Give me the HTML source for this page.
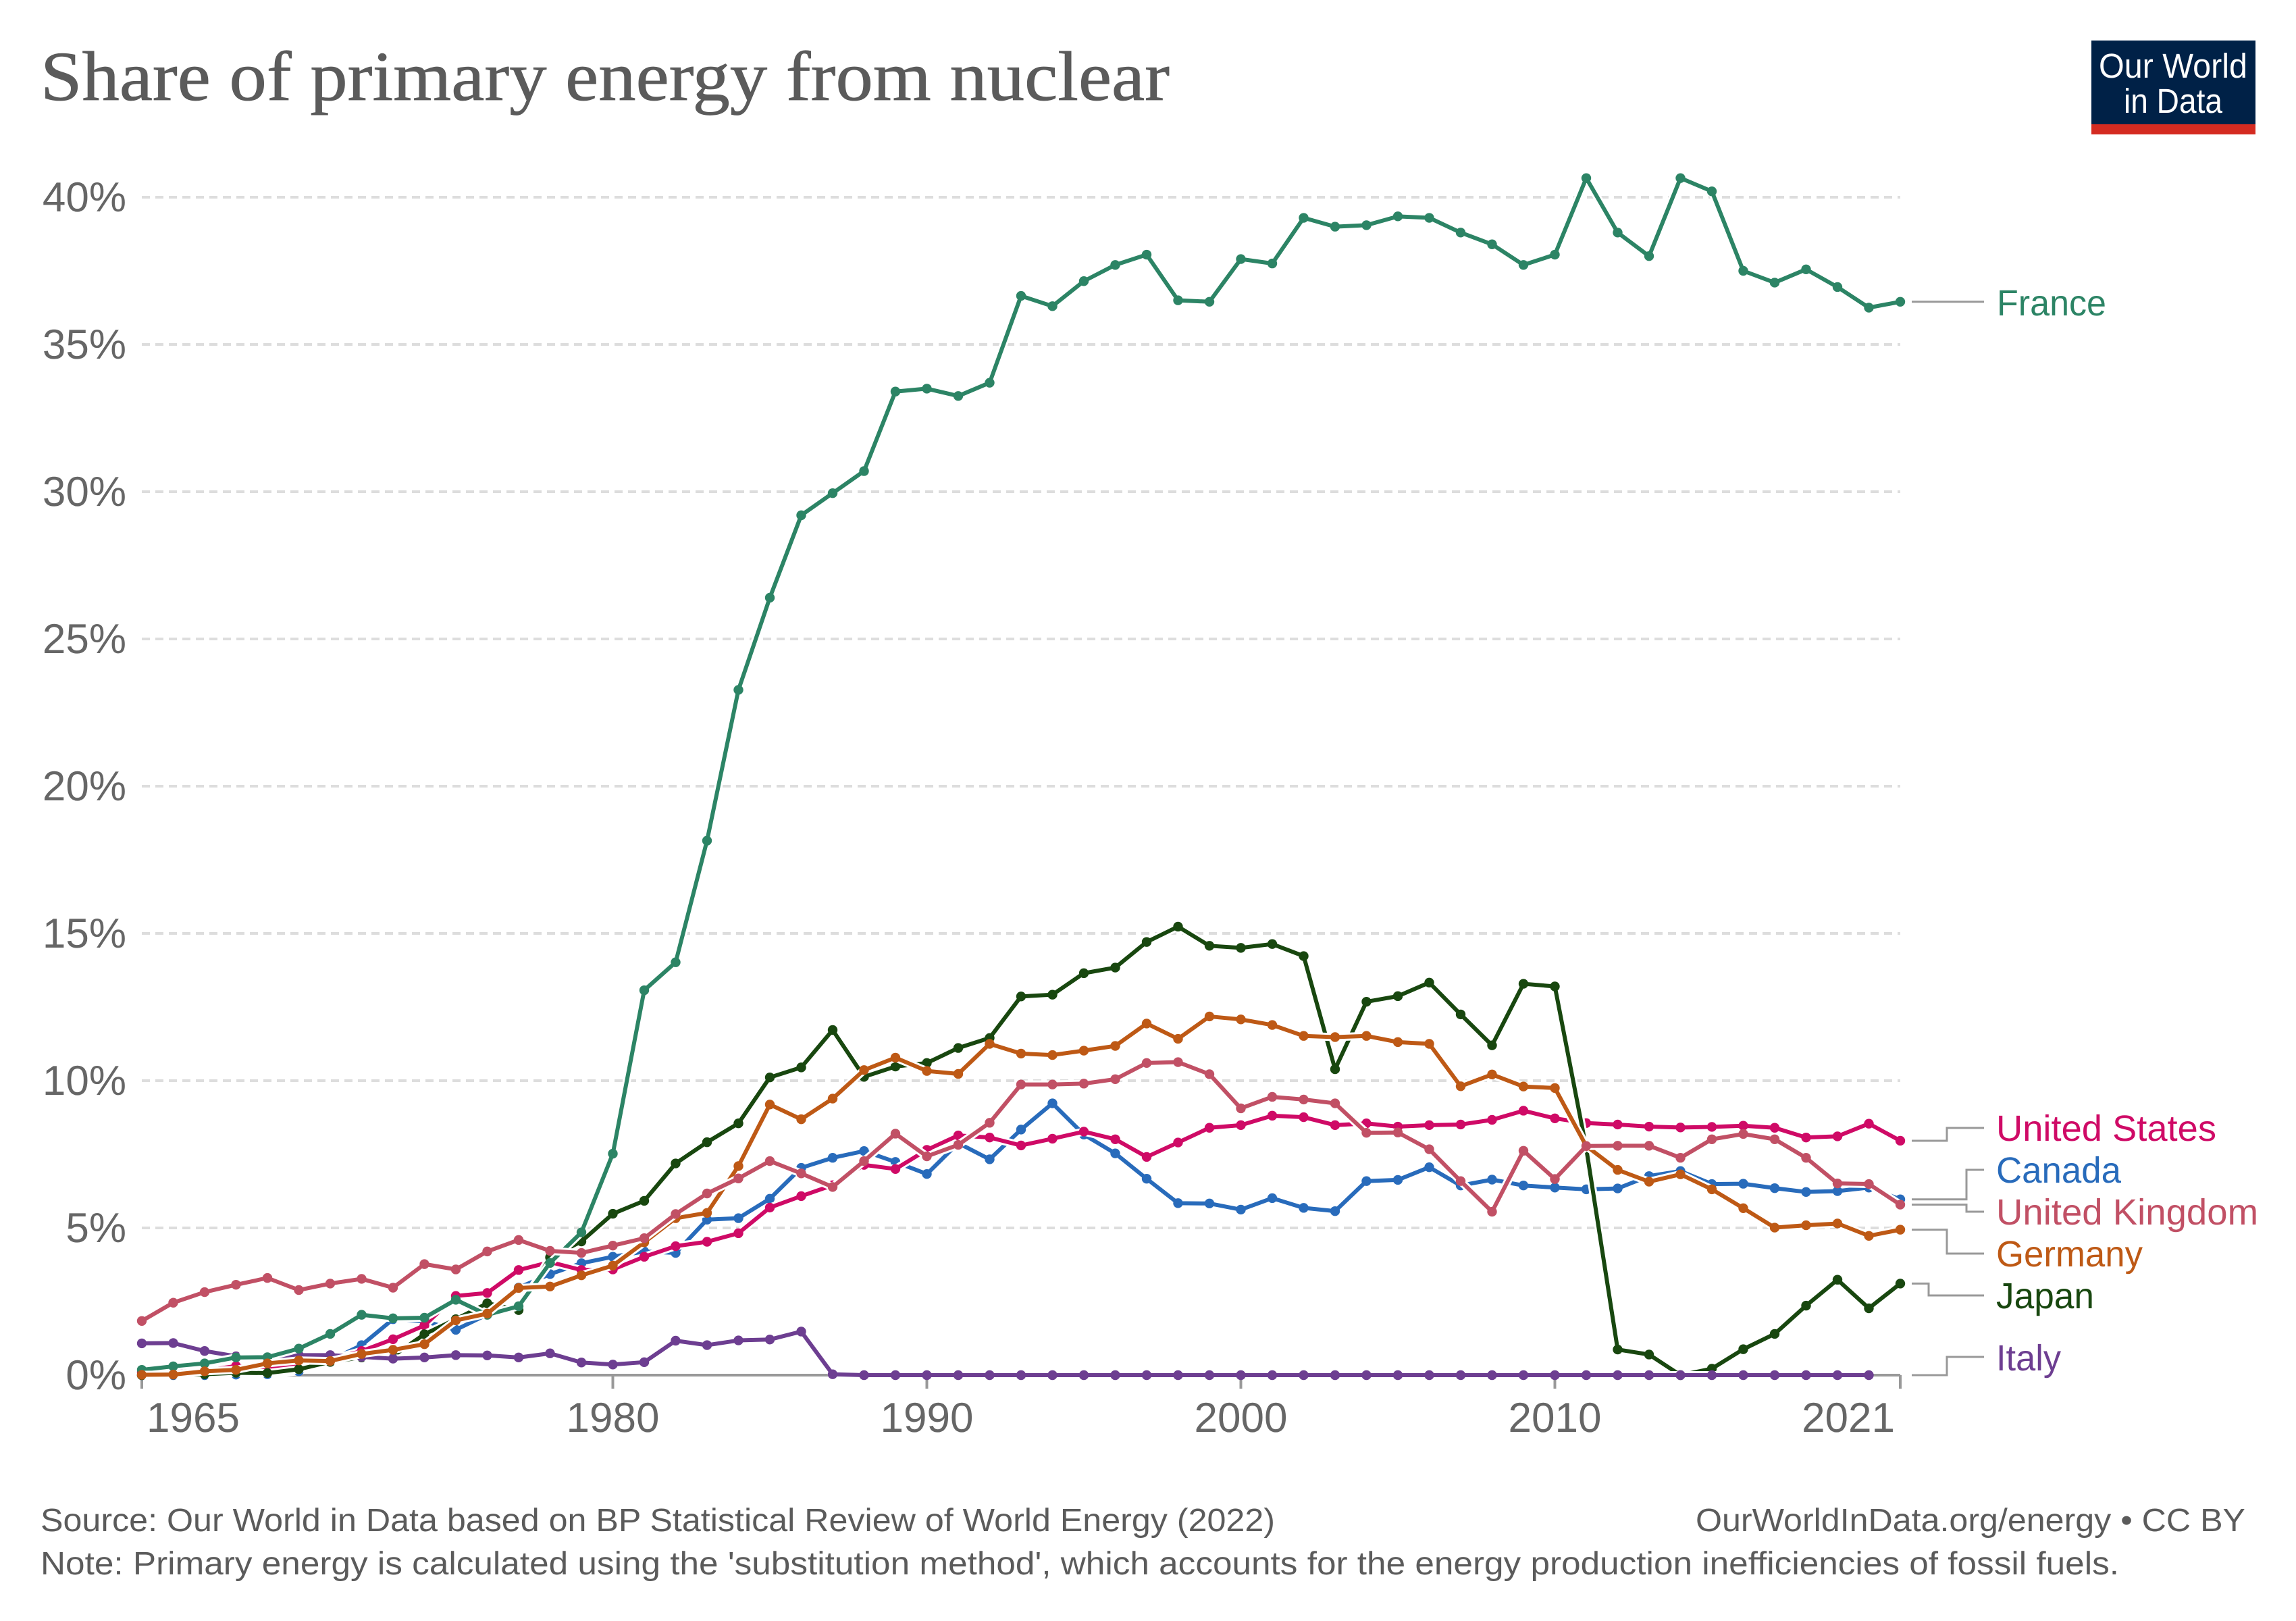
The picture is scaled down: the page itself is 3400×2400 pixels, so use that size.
<!DOCTYPE html>
<html lang="en">
<head>
<meta charset="utf-8">
<title>Share of primary energy from nuclear</title>
<style>
html,body{margin:0;padding:0;background:#fff;width:3400px;height:2400px;overflow:hidden}
svg{display:block}
text{font-family:"Liberation Sans",Arial,sans-serif;text-rendering:geometricPrecision}
</style>
</head>
<body>
<svg id="chart" xmlns="http://www.w3.org/2000/svg" width="3400" height="2400" viewBox="0 0 3400 2400">
  <rect width="3400" height="2400" fill="#fff"/>
  <text x="60" y="148" font-size="104" fill="#5b5b5b" stroke="#5b5b5b" stroke-width="0.8" textLength="1672" lengthAdjust="spacingAndGlyphs" style="font-family:'Liberation Serif',Georgia,serif">Share of primary energy from nuclear</text>
  <g>
    <rect x="3097" y="60" width="243" height="124" fill="#002147"/>
    <rect x="3097" y="184" width="243" height="15" fill="#d42b21"/>
    <text x="3218" y="115" font-size="51" fill="#fff" text-anchor="middle" textLength="220" lengthAdjust="spacingAndGlyphs">Our World</text>
    <text x="3218" y="167" font-size="51" fill="#fff" text-anchor="middle" textLength="146" lengthAdjust="spacingAndGlyphs">in Data</text>
  </g>
  <g id="grid"></g>
  <g id="yticks"></g>
  <g id="xaxis"></g>
  <g id="series"></g>
  <g id="connectors" fill="none" stroke="#999" stroke-width="3"></g>
  <g font-size="54">
    <text x="2957" y="467" fill="#2c8465" textLength="162" lengthAdjust="spacingAndGlyphs">France</text>
    <text x="2956" y="1689" fill="#cf0a66" textLength="326" lengthAdjust="spacingAndGlyphs">United States</text>
    <text x="2956" y="1751" fill="#286bbb" textLength="185" lengthAdjust="spacingAndGlyphs">Canada</text>
    <text x="2956" y="1813" fill="#c15065" textLength="388" lengthAdjust="spacingAndGlyphs">United Kingdom</text>
    <text x="2956" y="1875" fill="#be5915" textLength="217" lengthAdjust="spacingAndGlyphs">Germany</text>
    <text x="2956" y="1937" fill="#18470f" textLength="145" lengthAdjust="spacingAndGlyphs">Japan</text>
    <text x="2956" y="2029" fill="#6d3e91" textLength="96" lengthAdjust="spacingAndGlyphs">Italy</text>
  </g>
  <text x="60" y="2267" font-size="48" fill="#5b5b5b" textLength="1828" lengthAdjust="spacingAndGlyphs">Source: Our World in Data based on BP Statistical Review of World Energy (2022)</text>
  <text x="2511" y="2267" font-size="48" fill="#5b5b5b" textLength="814" lengthAdjust="spacingAndGlyphs">OurWorldInData.org/energy • CC BY</text>
  <text x="60" y="2331" font-size="48" fill="#5b5b5b" textLength="3078" lengthAdjust="spacingAndGlyphs">Note: Primary energy is calculated using the 'substitution method', which accounts for the energy production inefficiencies of fossil fuels.</text>
</svg>
<script>
const years = [1965,1966,1967,1968,1969,1970,1971,1972,1973,1974,1975,1976,1977,1978,1979,1980,1981,1982,1983,1984,1985,1986,1987,1988,1989,1990,1991,1992,1993,1994,1995,1996,1997,1998,1999,2000,2001,2002,2003,2004,2005,2006,2007,2008,2009,2010,2011,2012,2013,2014,2015,2016,2017,2018,2019,2020,2021];
const yTickValues = [0,5,10,15,20,25,30,35,40];
const yTickLabels = ['0%','5%','10%','15%','20%','25%','30%','35%','40%'];
const xTickYears = [1965,1980,1990,2000,2010,2021];
const xTickLabels = ['1965','1980','1990','2000','2010','2021'];

const canadaValues = [0,0,0,0.02,0.03,0.13,0.5,1.02,1.9,1.83,1.54,2.06,2.97,3.43,3.8,4.02,
  4.2,4.15,5.28,5.33,5.99,7.04,7.38,7.61,7.24,6.83,
  7.88,7.33,8.34,9.23,8.17,7.53,6.67,5.84,5.83,5.62,
  6.01,5.68,5.57,6.59,6.63,7.06,6.44,6.64,6.44,6.37,
  6.31,6.34,6.76,6.93,6.49,6.5,6.35,6.22,6.25,6.37,5.97];
const usValues = [0.1,0.12,0.15,0.31,0.2,0.31,0.53,0.82,1.22,1.69,2.69,2.79,3.57,3.84,3.57,3.59,
  4.02,4.38,4.53,4.82,5.69,6.08,6.45,7.14,7.0,7.65,
  8.14,8.07,7.8,8.03,8.27,8.01,7.41,7.9,8.4,8.49,
  8.81,8.76,8.49,8.55,8.44,8.49,8.51,8.67,8.98,8.72,
  8.56,8.51,8.44,8.41,8.43,8.47,8.4,8.07,8.11,8.54,7.96];
const japanValues = [0,0.02,0.03,0.08,0.07,0.2,0.45,0.6,0.65,1.39,1.9,2.44,2.21,4.0,4.54,5.48,
  5.92,7.19,7.91,8.55,10.11,10.45,11.72,10.13,10.48,10.6,
  11.11,11.45,12.86,12.92,13.65,13.84,14.71,15.23,14.58,14.51,
  14.64,14.23,10.39,12.68,12.87,13.33,12.25,11.2,13.29,13.2,
  7.7,0.87,0.7,0,0.22,0.88,1.4,2.36,3.24,2.27,3.11];
const italyValues = [1.08,1.09,0.82,0.64,0.49,0.68,0.68,0.62,0.56,0.6,0.68,0.67,0.6,0.74,0.43,0.36,
  0.44,1.17,1.02,1.18,1.21,1.48,0.03,0,0,0,
  0,0,0,0,0,0,0,0,0,0,
  0,0,0,0,0,0,0,0,0,0,
  0,0,0,0,0,0,0,0,0,0];
const franceValues = [0.18,0.3,0.4,0.6,0.61,0.9,1.4,2.05,1.93,1.95,2.56,2.05,2.34,3.81,4.85,7.52,
  13.07,14.02,18.15,23.27,26.4,29.2,29.95,30.7,33.4,33.5,
  33.25,33.7,36.65,36.3,37.15,37.7,38.05,36.5,36.45,37.9,
  37.75,39.3,39,39.05,39.35,39.3,38.8,38.4,37.7,38.05,
  40.65,38.8,38,40.65,40.2,37.5,37.1,37.55,36.95,36.25,36.45];
const germanyValues = [0.01,0.02,0.13,0.18,0.4,0.5,0.48,0.72,0.86,1.05,1.86,2.09,2.96,3.01,3.39,3.72,
  4.51,5.33,5.51,7.1,9.19,8.69,9.39,10.36,10.78,10.33,
  10.23,11.25,10.92,10.87,11.02,11.18,11.94,11.42,12.18,12.08,
  11.89,11.52,11.48,11.52,11.31,11.25,9.81,10.21,9.8,9.75,
  7.78,6.97,6.57,6.82,6.31,5.67,5.01,5.09,5.15,4.73,4.94];
const ukValues = [1.84,2.46,2.82,3.07,3.3,2.89,3.11,3.27,2.97,3.77,3.59,4.2,4.59,4.22,4.15,4.4,
  4.65,5.47,6.17,6.68,7.27,6.85,6.39,7.27,8.2,7.43,
  7.82,8.57,9.87,9.87,9.9,10.05,10.6,10.63,10.22,9.06,
  9.45,9.36,9.23,8.23,8.24,7.67,6.59,5.55,7.62,6.66,
  7.78,7.79,7.79,7.38,8.01,8.19,8.01,7.38,6.51,6.49,5.79];

const NS = 'http://www.w3.org/2000/svg';
const plotLeft = 210, pxPerYear = 46.5, plotBottom = 2036, pxPerPct = 43.6;
function xScale(year) { return plotLeft + (year - 1965) * pxPerYear; }
function yScale(v) { return plotBottom - v * pxPerPct; }
const plotRight = xScale(years[years.length - 1]);

const gridG = document.getElementById('grid');
const yTickG = document.getElementById('yticks');
yTickValues.forEach(function (v, i) {
  if (v !== 0) {
    const line = document.createElementNS(NS, 'line');
    
    
    line.setAttribute('x1', plotLeft);
    line.setAttribute('x2', plotRight);
    line.setAttribute('y1', yScale(v));
    line.setAttribute('y2', yScale(v));
    line.setAttribute('stroke', '#ddd');
    line.setAttribute('stroke-width', 4);
    line.setAttribute('stroke-dasharray', '12 8');
    gridG.appendChild(line);
  }
  const label = document.createElementNS(NS, 'text');
  
  
  label.setAttribute('x', 187);
  label.setAttribute('y', yScale(v) + 21);
  label.setAttribute('font-size', 62);
  label.setAttribute('fill', '#666');
  label.setAttribute('text-anchor', 'end');
  label.textContent = yTickLabels[i];
  yTickG.appendChild(label);
});

const xG = document.getElementById('xaxis');
const axisLine = document.createElementNS(NS, 'line');


axisLine.setAttribute('x1', plotLeft);
axisLine.setAttribute('x2', plotRight);
axisLine.setAttribute('y1', plotBottom);
axisLine.setAttribute('y2', plotBottom);
axisLine.setAttribute('stroke', '#999');
axisLine.setAttribute('stroke-width', 4);
xG.appendChild(axisLine);
xTickYears.forEach(function (yr, i) {
  const tick = document.createElementNS(NS, 'line');
  
  
  tick.setAttribute('x1', xScale(yr));
  tick.setAttribute('x2', xScale(yr));
  tick.setAttribute('y1', plotBottom);
  tick.setAttribute('y2', plotBottom + 20);
  tick.setAttribute('stroke', '#999');
  tick.setAttribute('stroke-width', 4);
  xG.appendChild(tick);
  const label = document.createElementNS(NS, 'text');
  
  
  label.setAttribute('y', 2120);
  label.setAttribute('font-size', 62);
  label.setAttribute('fill', '#666');
  if (i === 0) {
    label.setAttribute('x', xScale(yr) + 7);
    label.setAttribute('text-anchor', 'start');
  } else if (i === xTickYears.length - 1) {
    label.setAttribute('x', xScale(yr) - 8);
    label.setAttribute('text-anchor', 'end');
  } else {
    label.setAttribute('x', xScale(yr));
    label.setAttribute('text-anchor', 'middle');
  }
  label.textContent = xTickLabels[i];
  xG.appendChild(label);
});

function drawSeries(name, values, color) {
  const seriesG = document.getElementById('series');
  const group = document.createElementNS(NS, 'g');
  
  
  const d = values.map(function (v, i) {
    return (i ? 'L' : 'M') + xScale(years[i]).toFixed(2) + ' ' + yScale(v).toFixed(2);
  }).join('');
  const halo = document.createElementNS(NS, 'path');
  
  
  halo.setAttribute('d', d);
  halo.setAttribute('fill', 'none');
  halo.setAttribute('stroke', '#fff');
  halo.setAttribute('stroke-width', 12);
  halo.setAttribute('stroke-linejoin', 'round');
  group.appendChild(halo);
  const line = document.createElementNS(NS, 'path');
  
  
  line.setAttribute('d', d);
  line.setAttribute('fill', 'none');
  line.setAttribute('stroke', color);
  line.setAttribute('stroke-width', 6);
  line.setAttribute('stroke-linejoin', 'round');
  group.appendChild(line);
  values.forEach(function (v, i) {
    const dot = document.createElementNS(NS, 'circle');
    
    
    dot.setAttribute('cx', xScale(years[i]));
    dot.setAttribute('cy', yScale(v));
    dot.setAttribute('r', 7.2);
    dot.setAttribute('fill', color);
    group.appendChild(dot);
  });
  seriesG.appendChild(group);
}
drawSeries('canada', canadaValues, '#286bbb');
drawSeries('united-states', usValues, '#cf0a66');
drawSeries('japan', japanValues, '#18470f');
drawSeries('italy', italyValues, '#6d3e91');
drawSeries('france', franceValues, '#2c8465');
drawSeries('germany', germanyValues, '#be5915');
drawSeries('united-kingdom', ukValues, '#c15065');

function drawConnector(name, value, kneeX, labelY) {
  const startY = yScale(value);
  const path = document.createElementNS(NS, 'path');
  
  
  path.setAttribute('d', 'M2831 ' + startY + 'H' + kneeX + 'V' + labelY + 'H2938');
  document.getElementById('connectors').appendChild(path);
}
drawConnector('france', franceValues[franceValues.length - 1], 2883, yScale(franceValues[franceValues.length - 1]));
drawConnector('united-states', usValues[usValues.length - 1], 2883, 1670);
drawConnector('canada', canadaValues[canadaValues.length - 1], 2912, 1732);
drawConnector('united-kingdom', ukValues[ukValues.length - 1], 2912, 1794);
drawConnector('germany', germanyValues[germanyValues.length - 1], 2883, 1856);
drawConnector('japan', japanValues[japanValues.length - 1], 2856, 1918);
drawConnector('italy', italyValues[italyValues.length - 1], 2883, 2009);
</script>
</body>
</html>
